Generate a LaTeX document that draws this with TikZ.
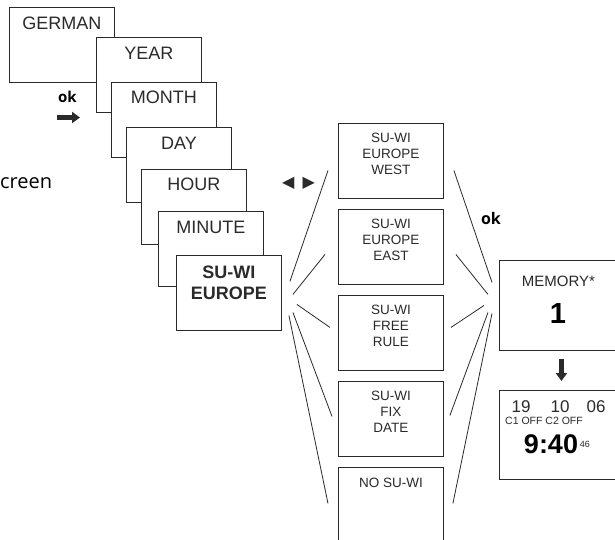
\documentclass[tikz,border=0pt]{standalone}
\usepackage{fontspec}
\setmainfont{Liberation Sans}
\newfontfamily\okfont{Open Sans}
\newfontfamily\symfont{DejaVu Sans}
\usetikzlibrary{calc}
\usetikzlibrary{arrows.meta}
\definecolor{ink}{HTML}{2A2A2A}

\tikzset{
  screen/.style={draw=ink, fill=white, line width=0.9pt, minimum width=105pt, minimum height=75pt, anchor=north west, inner sep=0pt},
  big/.style={anchor=north, inner sep=0pt, align=center, text=ink, font=\fontsize{18}{21}\selectfont},
  small/.style={anchor=north, inner sep=0pt, align=center, text=ink, font=\fontsize{13.5}{16}\selectfont},
  fan/.style={draw=ink, line width=0.8pt},
  fat/.style={draw=ink, line width=5pt, -{Triangle[length=8pt, width=11pt]}},
}

\begin{document}
\begin{tikzpicture}[x=1pt, y=-1pt]
            \useasboundingbox (0, 0) rectangle (615, 540);
            % settings chain
            \node[screen] (GERMAN) at (9, 7) {};
            \node[screen] (YEAR) at (96, 37) {};
            \node[screen] (MONTH) at (111, 82) {};
            \node[screen] (DAY) at (126, 127) {};
            \node[screen] (HOUR) at (141, 169) {};
            \node[screen] (MINUTE) at (158, 211) {};
            \node[screen] (SUWI) at (176, 255) {};
            \node[big] (tGERMAN) at ($(GERMAN.north) + (0, 9.5)$) {GERMAN};
            \node[big] (tYEAR) at ($(YEAR.north) + (0, 9.5)$) {YEAR};
            \node[big] (tMONTH) at ($(MONTH.north) + (0, 8.5)$) {MONTH};
            \node[big] (tDAY) at ($(DAY.north) + (0, 9.5)$) {DAY};
            \node[big] (tHOUR) at ($(HOUR.north) + (0, 8.5)$) {HOUR};
            \node[big] (tMINUTE) at ($(MINUTE.north) + (0, 10)$) {MINUTE};
            \node[big, font=\fontsize{18}{21}\selectfont\bfseries] (tSUWI) at ($(SUWI.north) + (0, 10.5)$) {SU-WI\\EUROPE};
            \node[anchor=base, inner sep=0pt, font=\okfont\bfseries\fontsize{15}{18}\selectfont] (OKL) at (67.5, 103) {ok};
            \draw[fat] ($(OKL.base) + (-10.5, 14.5)$) -- ($(OKL.base) + (12.5, 14.5)$);
            \node[anchor=base west, inner sep=0pt, font=\okfont\fontsize{20}{24}\selectfont] (CREEN) at (0, 188) {creen};
            % options
            \node[screen] (WEST) at (338, 123) {};
            \node[screen] (EAST) at (338, 209) {};
            \node[screen] (FREE) at (338, 295) {};
            \node[screen] (FIX) at (338, 381) {};
            \node[screen] (NOSUWI) at (338, 467) {};
            \node[small] (tWEST) at ($(WEST.north) + (0, 9.5)$) {SU-WI\\EUROPE\\WEST};
            \node[small] (tEAST) at ($(EAST.north) + (0, 9.5)$) {SU-WI\\EUROPE\\EAST};
            \node[small] (tFREE) at ($(FREE.north) + (0, 9.5)$) {SU-WI\\FREE\\RULE};
            \node[small] (tFIX) at ($(FIX.north) + (0, 9.5)$) {SU-WI\\FIX\\DATE};
            \node[small] (tNOSUWI) at ($(NOSUWI.north) + (0, 10.5)$) {NO SU-WI};
            \node[inner sep=0pt, text=ink, font=\symfont\fontsize{16}{20}\selectfont] (ARROWS) at (298.5, 183.5) {◀\hspace{8pt}▶};
            % fan to options
            \draw[fan] ($(SUWI.east) + (8, -11.5)$) -- ($(WEST.west) + (-10, 9.5)$);
            \draw[fan] ($(SUWI.east) + (11, 1.5)$) -- ($(EAST.west) + (-13, 7.5)$);
            \draw[fan] ($(SUWI.east) + (15, 11.5)$) -- ($(FREE.west) + (-8, -5.5)$);
            \draw[fan] ($(SUWI.east) + (11, 19.5)$) -- ($(FIX.west) + (-6, -2.5)$);
            \draw[fan] ($(SUWI.east) + (7, 22.5)$) -- ($(NOSUWI.west) + (-10, -1.5)$);
            % result
            \node[screen, minimum width=118pt, minimum height=90pt] (MEMORY) at (499, 260) {};
            \node[screen, minimum width=118pt, minimum height=89pt] (CLOCK) at (499, 390) {};
            \draw[fan] ($(WEST.east) + (10, 9.5)$) -- ($(MEMORY.west) + (-7, -23)$);
            \draw[fan] ($(EAST.east) + (12, 7.5)$) -- ($(MEMORY.west) + (-11, -11)$);
            \draw[fan] ($(FREE.east) + (7, -5.5)$) -- ($(MEMORY.west) + (-15, 0)$);
            \draw[fan] ($(FIX.east) + (6, -3.5)$) -- ($(MEMORY.west) + (-11, 7)$);
            \draw[fan] ($(NOSUWI.east) + (9, -1.5)$) -- ($(MEMORY.west) + (-7, 8)$);
            \node[anchor=base, inner sep=0pt, font=\okfont\bfseries\fontsize{16}{19}\selectfont] (OKR) at (491, 224) {ok};
            \node[anchor=base, inner sep=0pt, text=ink, font=\fontsize{15}{18}\selectfont] (tMEMORY) at ($(MEMORY.north west) + (59.5, 26)$) {MEMORY*};
            \node[anchor=base, inner sep=0pt, font=\fontsize{29}{34}\selectfont\bfseries] (tONE) at ($(MEMORY.north west) + (59, 63)$) {1};
            \draw[fat] ($(MEMORY.south) + (3, 8)$) -- ($(CLOCK.north) + (3, -9)$);
            \node[anchor=base, inner sep=0pt, text=ink, font=\fontsize{17}{20}\selectfont] (tDD) at ($(CLOCK.north west) + (22, 22)$) {19};
            \node[anchor=base, inner sep=0pt, text=ink, font=\fontsize{17}{20}\selectfont] (tMM) at ($(CLOCK.north west) + (61, 22)$) {10};
            \node[anchor=base, inner sep=0pt, text=ink, font=\fontsize{17}{20}\selectfont] (tYY) at ($(CLOCK.north west) + (97, 22)$) {06};
            \node[anchor=base west, inner sep=0pt, text=ink, font=\fontsize{10.5}{12}\selectfont] (tCH) at ($(CLOCK.north west) + (6, 34)$) {C1 OFF C2 OFF};
            \node[anchor=base, inner sep=0pt, font=\fontsize{27}{31}\selectfont\bfseries] (tTIME) at ($(CLOCK.north west) + (52, 63)$) {9:40};
            \node[anchor=base west, inner sep=0pt, text=ink, font=\fontsize{9}{11}\selectfont] (tSEC) at ($(tTIME.base east) + (1.5, -6)$) {46};
        \end{tikzpicture}
\end{document}
